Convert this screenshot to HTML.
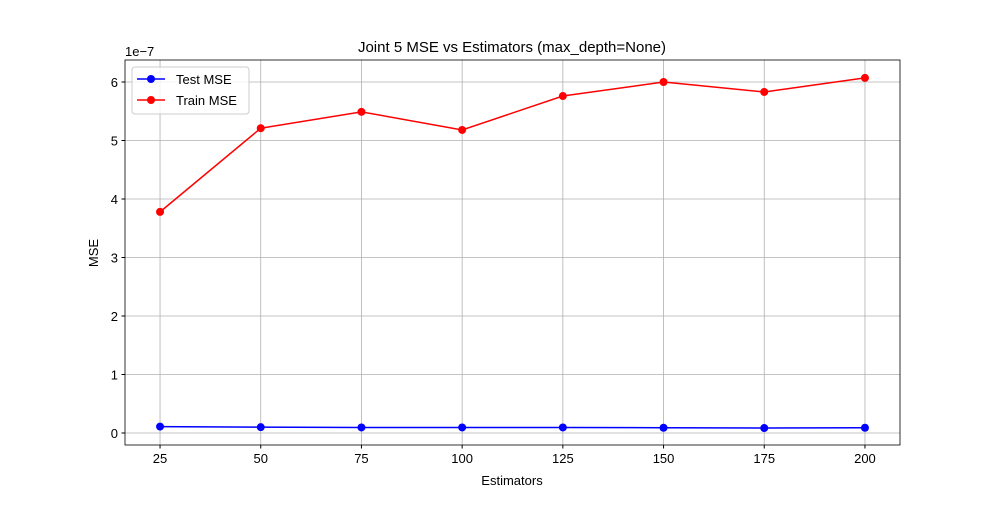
<!DOCTYPE html>
<html><head><meta charset="utf-8"><style>
body{margin:0;background:#fff;}
svg text{font-family:"Liberation Sans","DejaVu Sans",sans-serif;fill:#000;}
</style></head><body>
<svg id="chart" width="1000" height="500" xmlns="http://www.w3.org/2000/svg">
<rect width="1000" height="500" fill="#fff"/>
<g id="grid"></g><g id="axes"></g><g id="series"></g>
<text x="512" y="52" font-size="15" text-anchor="middle">Joint 5 MSE vs Estimators (max_depth=None)</text>
<text x="512" y="485" font-size="13" text-anchor="middle">Estimators</text>
<text x="98" y="253" font-size="13" text-anchor="middle" transform="rotate(-90 98 253)">MSE</text>
<text x="125" y="56" font-size="13">1e−7</text>
<g>
<rect x="132" y="67" width="117" height="47" fill="#fff" fill-opacity="0.8" stroke="#ccc" rx="3"/>
<g><line x1="137" y1="79" x2="165" y2="79" stroke="blue" stroke-width="1.5"/><circle cx="151" cy="79" r="4" fill="blue"/><text x="176" y="84" font-size="13">Test MSE</text></g>
<g><line x1="137" y1="100" x2="165" y2="100" stroke="red" stroke-width="1.5"/><circle cx="151" cy="100" r="4" fill="red"/><text x="176" y="105" font-size="13">Train MSE</text></g>
</g>
</svg>
<script>
const categories=[25,50,75,100,125,150,175,200];
const testMSE=[0.11,0.10,0.095,0.095,0.095,0.09,0.085,0.09];
const trainMSE=[3.78,5.21,5.49,5.18,5.76,6.0,5.83,6.07];
const yTicks=[0,1,2,3,4,5,6];
const L=125,R=900,T=60,B=445,xMin=16.3,xMax=208.7,yMin=-0.205,yMax=6.376;
const xs=v=>L+(v-xMin)/(xMax-xMin)*(R-L);
const ys=v=>B-(v-yMin)/(yMax-yMin)*(B-T);
const NS="http://www.w3.org/2000/svg";
function mk(p,t,a){const e=document.createElementNS(NS,t);for(const k in a)e.setAttribute(k,a[k]);p.appendChild(e);return e;}
const grid=document.getElementById('grid'),axes=document.getElementById('axes'),ser=document.getElementById('series');
categories.forEach(c=>{const x=xs(c);
const g=mk(grid,'line',{x1:x,x2:x,y1:T,y2:B,stroke:'#b0b0b0','stroke-width':0.8});


mk(axes,'line',{x1:x,x2:x,y1:B,y2:B+3.5,stroke:'#000'});
const t=mk(axes,'text',{x:x,y:B+18,'font-size':13,'text-anchor':'middle'});t.textContent=c;

});
yTicks.forEach(v=>{const y=ys(v);
const g=mk(grid,'line',{x1:L,x2:R,y1:y,y2:y,stroke:'#b0b0b0','stroke-width':0.8});


mk(axes,'line',{x1:L-3.5,x2:L,y1:y,y2:y,stroke:'#000'});
const t=mk(axes,'text',{x:L-7,y:y+5,'font-size':13,'text-anchor':'end'});t.textContent=v;

});
const fr=mk(axes,'rect',{x:L,y:T,width:R-L,height:B-T,fill:'none',stroke:'#000','stroke-width':0.8});


function draw(vals,col,name){
const pl=mk(ser,'polyline',{points:vals.map((v,i)=>xs(categories[i])+','+ys(v)).join(' '),fill:'none',stroke:col,'stroke-width':1.5});


vals.forEach((v,i)=>{const c=mk(ser,'circle',{cx:xs(categories[i]),cy:ys(v),r:4,fill:col});

});}
draw(testMSE,'blue','test-mse');
draw(trainMSE,'red','train-mse');
</script>
</body></html>
